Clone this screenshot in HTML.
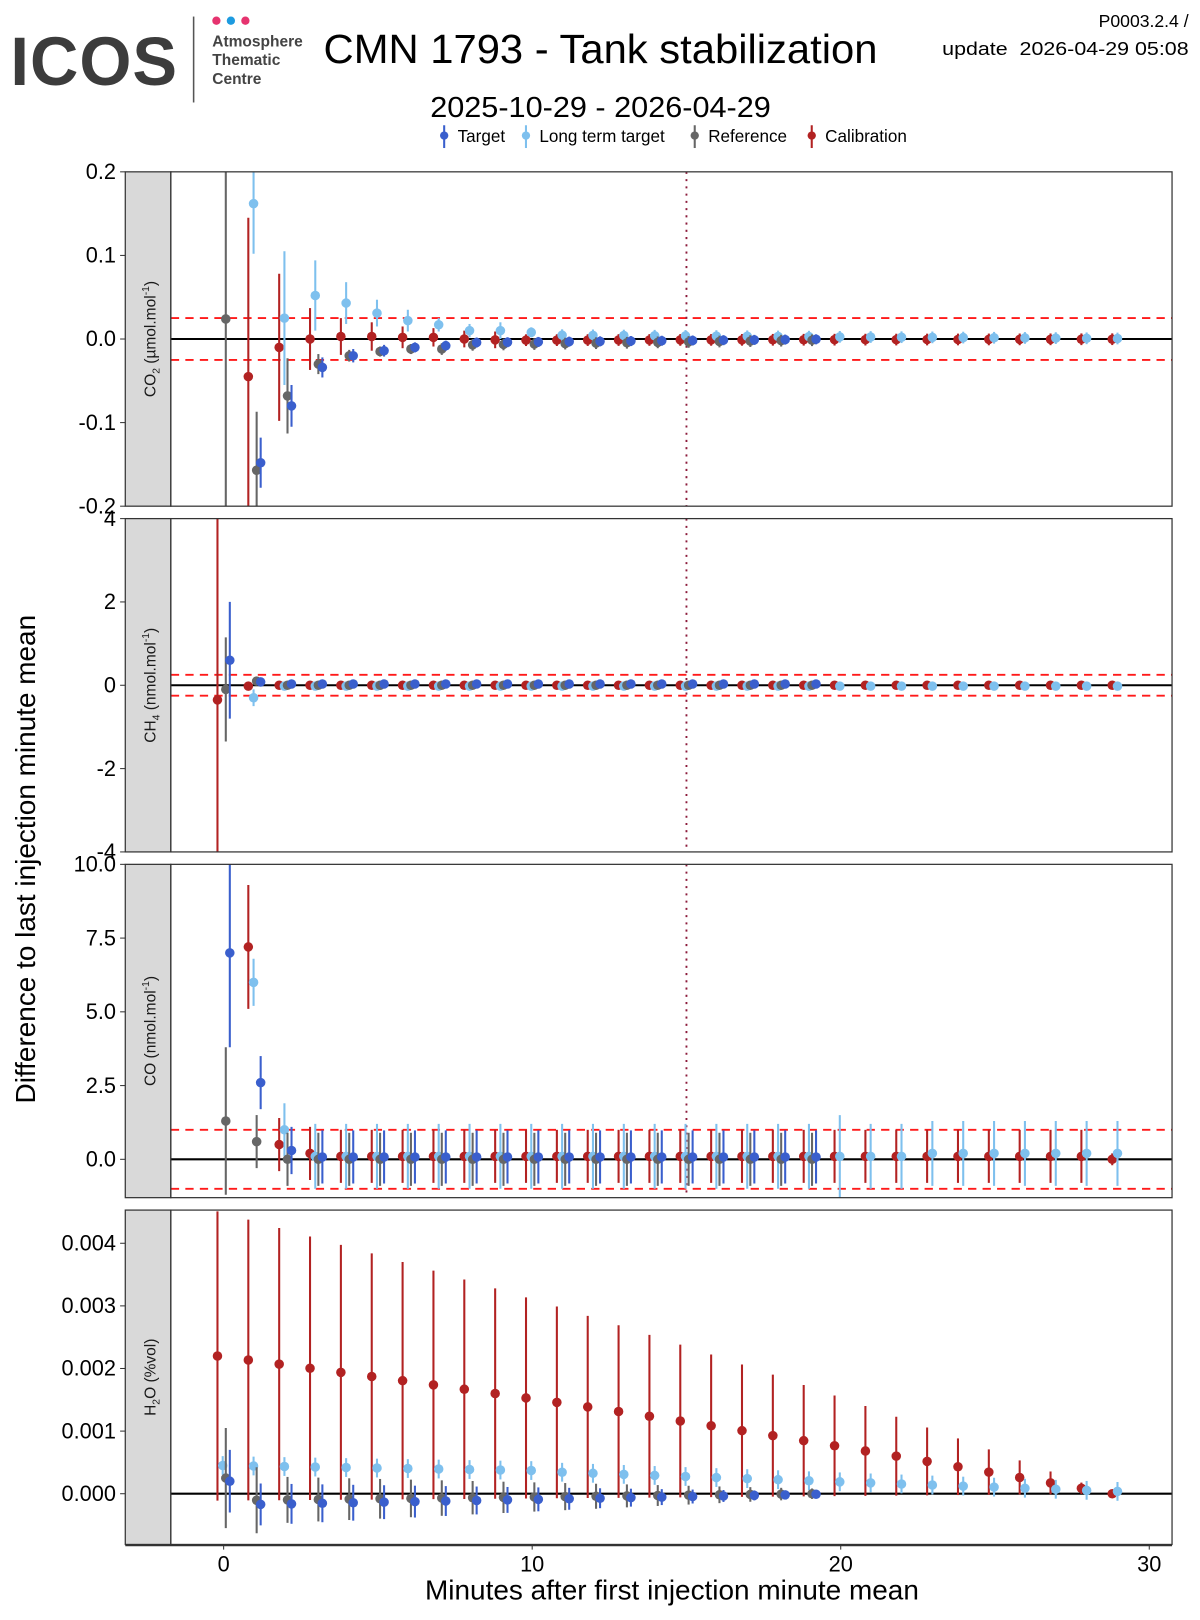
<!DOCTYPE html>
<html><head><meta charset="utf-8"><style>html,body{margin:0;padding:0;background:#fff}svg{display:block}text{font-family:"Liberation Sans",sans-serif}</style></head>
<body>
<svg id="s" width="1200" height="1620" viewBox="0 0 1159 1565" preserveAspectRatio="none" xmlns="http://www.w3.org/2000/svg">
<text x="10" y="82" font-size="66" font-weight="bold" fill="#3c3c3c" letter-spacing="1" textLength="162" lengthAdjust="spacingAndGlyphs">ICOS</text>
<line x1="187" y1="16" x2="187" y2="99" stroke="#555" stroke-width="1.5"/>
<circle cx="209" cy="20" r="4" fill="#e6336f"/><circle cx="223" cy="20" r="4" fill="#1d9be0"/><circle cx="237" cy="20" r="4" fill="#e6336f"/>
<text x="205" y="45" font-size="15" font-weight="bold" fill="#444">Atmosphere</text>
<text x="205" y="63" font-size="15" font-weight="bold" fill="#444">Thematic</text>
<text x="205" y="81" font-size="15" font-weight="bold" fill="#444">Centre</text>
<text x="580" y="61" font-size="39" text-anchor="middle" textLength="535" lengthAdjust="spacingAndGlyphs">CMN 1793 - Tank stabilization</text>
<text x="580" y="113" font-size="28" text-anchor="middle" textLength="329" lengthAdjust="spacingAndGlyphs">2025-10-29 - 2026-04-29</text>
<text x="1148" y="26" font-size="17" text-anchor="end">P0003.2.4 /</text>
<text x="1148" y="53" font-size="18" text-anchor="end" xml:space="preserve" textLength="238" lengthAdjust="spacingAndGlyphs">update  2026-04-29 05:08</text>
<g id="leg" font-size="16.5"></g>
<g id="plots"></g>
<text transform="translate(34,830) rotate(-90)" font-size="27" text-anchor="middle">Difference to last injection minute mean</text>
<text x="649" y="1545" font-size="27" text-anchor="middle">Minutes after first injection minute mean</text>
</svg>
<script>
const NS="http://www.w3.org/2000/svg";
const g=document.getElementById('plots');
function el(t,a,p){const e=document.createElementNS(NS,t);for(const k in a)e.setAttribute(k,a[k]);(p||g).appendChild(e);return e;}
const C={t:'#3a5fcd',l:'#7ec0ee',r:'#666666',c:'#b22222'};
const OFF={c:-0.2,l:-0.03,r:0.07,t:0.2};
const leg=document.getElementById('leg');
[['t','Target',429],['l','Long term target',508],['r','Reference',671],['c','Calibration',784]].forEach(([k,n,x])=>{
 el('line',{x1:x,y1:121,x2:x,y2:143,stroke:C[k],'stroke-width':2},leg);
 el('circle',{cx:x,cy:131,r:4,fill:C[k]},leg);
 const t=el('text',{x:x+13,y:137},leg);t.textContent=n;});
const X=v=>216+v*29.8;
const panels=[
 {y0:166,y1:489,v0:0.2,v1:-0.2,ticks:[[0.2,'0.2'],[0.1,'0.1'],[0,'0.0'],[-0.1,'-0.1'],[-0.2,'-0.2']],dash:0.025,lab:'CO<tspan font-size="10" dy="4">2</tspan><tspan dy="-4"> (µmol.mol</tspan><tspan font-size="10" dy="-6">-1</tspan><tspan dy="6">)</tspan>'},
 {y0:501,y1:823,v0:4,v1:-4,ticks:[[4,'4'],[2,'2'],[0,'0'],[-2,'-2'],[-4,'-4']],dash:0.25,lab:'CH<tspan font-size="10" dy="4">4</tspan><tspan dy="-4"> (nmol.mol</tspan><tspan font-size="10" dy="-6">-1</tspan><tspan dy="6">)</tspan>'},
 {y0:835,y1:1157,v0:10,v1:-1.3,ticks:[[10,'10.0'],[7.5,'7.5'],[5,'5.0'],[2.5,'2.5'],[0,'0.0']],dash:1,lab:'CO (nmol.mol<tspan font-size="10" dy="-6">-1</tspan><tspan dy="6">)</tspan>'},
 {y0:1169,y1:1492,v0:0.00453,v1:-0.00081,ticks:[[0.004,'0.004'],[0.003,'0.003'],[0.002,'0.002'],[0.001,'0.001'],[0,'0.000']],dash:null,lab:'H<tspan font-size="10" dy="4">2</tspan><tspan dy="-4">O (%vol)</tspan>'}
];
function range(a,b){const r=[];for(let i=a;i<=b;i++)r.push(i);return r;}
const D=[
{
 t:[[1,-0.148,0.03],[2,-0.08,0.025],[3,-0.034,0.012],[4,-0.02,0.008],[5,-0.014,0.007],[6,-0.01,0.006],[7,-0.008,0.006]].concat(range(8,19).map(n=>[n,-0.007+n*0.00035,0.006])),
 r:[[0,0.024,0.3],[1,-0.157,0.07],[2,-0.068,0.045],[3,-0.03,0.012],[4,-0.02,0.007],[5,-0.015,0.006],[6,-0.012,0.006],[7,-0.012,0.007]].concat(range(8,19).map(n=>[n,-0.011+n*0.0005,0.007])),
 l:[[1,0.162,0.06],[2,0.025,0.08],[3,0.052,0.042],[4,0.043,0.025],[5,0.031,0.016],[6,0.022,0.013],[7,0.017,0.008],[8,0.01,0.008],[9,0.01,0.01],[10,0.008,0.006]].concat(range(11,29).map(n=>[n,0.007-n*0.00022,0.007])),
 c:[[1,-0.045,0.19],[2,-0.01,0.088],[3,0,0.037],[4,0.003,0.022],[5,0.003,0.017],[6,0.002,0.013],[7,0.002,0.011],[8,0,0.01],[9,-0.001,0.01]].concat(range(10,29).map(n=>[n,-0.002+n*0.00006,0.007]))
},
{
 t:[[0,0.6,1.4],[1,0.08,0.1]].concat(range(2,19).map(n=>[n,0.03,0.05])),
 r:[[0,-0.1,1.25],[1,0.1,0.1]].concat(range(2,19).map(n=>[n,0.0,0.05])),
 l:[[1,-0.3,0.2]].concat(range(2,29).map(n=>[n,-0.02,0.05])),
 c:[[0,-0.35,4.5],[1,-0.02,0.05]].concat(range(2,29).map(n=>[n,0,0.05]))
},
{
 t:[[0,7.0,3.2],[1,2.6,0.9],[2,0.3,0.8]].concat(range(3,19).map(n=>[n,0.08,0.9])),
 r:[[0,1.3,2.5],[1,0.6,0.9]].concat(range(2,19).map(n=>[n,0.0,0.9])),
 l:[[1,6.0,0.8],[2,1.0,0.9]].concat(range(3,29).map(n=>[n,0.1+(n>22?0.1:0),n==20?1.4:1.1])),
 c:[[1,7.2,2.1],[2,0.5,0.9],[3,0.2,0.9]].concat(range(4,29).map(n=>[n,0.1-(n==29?0.1:0),n==29?0.2:0.9]))
},
{
 t:[[0,0.0002,0.0005]].concat(range(1,19).map(n=>[n,-0.00018*(1-n/20),0.00035*(1-n/22)])),
 r:[[0,0.00025,0.0008]].concat(range(1,19).map(n=>[n,-0.00011*(1-n/19),(n==1?0.00055:0.0004)*(1-n/24)])),
 l:range(0,29).map(n=>[n,n<=10?0.00045-n*0.000008:Math.max(0,0.00036-(n-10)*0.000017),0.00015]),
 c:range(0,29).map(n=>{const v=0.0022*(1-n/29)+0.0001*Math.sin(n*Math.PI/29);return [n,v,v*1.05];})
}];
panels.forEach((p,i)=>{
 const Y=v=>p.y0+(p.v0-v)/(p.v0-p.v1)*(p.y1-p.y0);
 const cp='cp'+i;
 const defs=el('defs',{});const c=el('clipPath',{id:cp},defs);el('rect',{x:165,y:p.y0,width:967,height:p.y1-p.y0},c);
 el('rect',{x:121,y:p.y0,width:44,height:p.y1-p.y0,fill:'#d9d9d9',stroke:'#333','stroke-width':1.2});
 const t=el('text',{transform:`translate(150,${(p.y0+p.y1)/2}) rotate(-90)`,'font-size':15,'text-anchor':'middle',fill:'#1a1a1a'});t.innerHTML=p.lab;
 p.ticks.forEach(([v,s])=>{const y=Y(v);el('line',{x1:116,y1:y,x2:121,y2:y,stroke:'#333','stroke-width':1});
   const tt=el('text',{x:112,y:y+7,'font-size':21,'text-anchor':'end'});tt.textContent=s;});
 const gg=el('g',{'clip-path':`url(#${cp})`});
 el('line',{x1:165,y1:Y(0),x2:1132,y2:Y(0),stroke:'#000','stroke-width':2},gg);
 if(p.dash){[p.dash,-p.dash].forEach(v=>el('line',{x1:165,y1:Y(v),x2:1132,y2:Y(v),stroke:'#ff1a1a','stroke-width':1.8,'stroke-dasharray':'8,6'},gg));}
 if(i<3)el('line',{x1:X(15),y1:p.y0,x2:X(15),y2:p.y1,stroke:'#8b1a3a','stroke-width':1.8,'stroke-dasharray':'2,5'},gg);
 ['c','l','r','t'].forEach(k=>{D[i][k].forEach(([n,v,e])=>{const x=X(n+OFF[k]);
   el('line',{x1:x,y1:Y(v+e),x2:x,y2:Y(v-e),stroke:C[k],'stroke-width':2},gg);
   el('circle',{cx:x,cy:Y(v),r:4.6,fill:C[k]},gg);});});
 el('rect',{x:165,y:p.y0,width:967,height:p.y1-p.y0,fill:'none',stroke:'#333','stroke-width':1.2});
});
[[0,'0'],[10,'10'],[20,'20'],[30,'30']].forEach(([v,s])=>{const x=X(v);el('line',{x1:x,y1:1492,x2:x,y2:1497,stroke:'#333'});
 const t=el('text',{x:x,y:1518,'font-size':21,'text-anchor':'middle'});t.textContent=s;});
el('line',{x1:121,y1:1493,x2:1132,y2:1493,stroke:'#333','stroke-width':1.5});
</script>
</body></html>
